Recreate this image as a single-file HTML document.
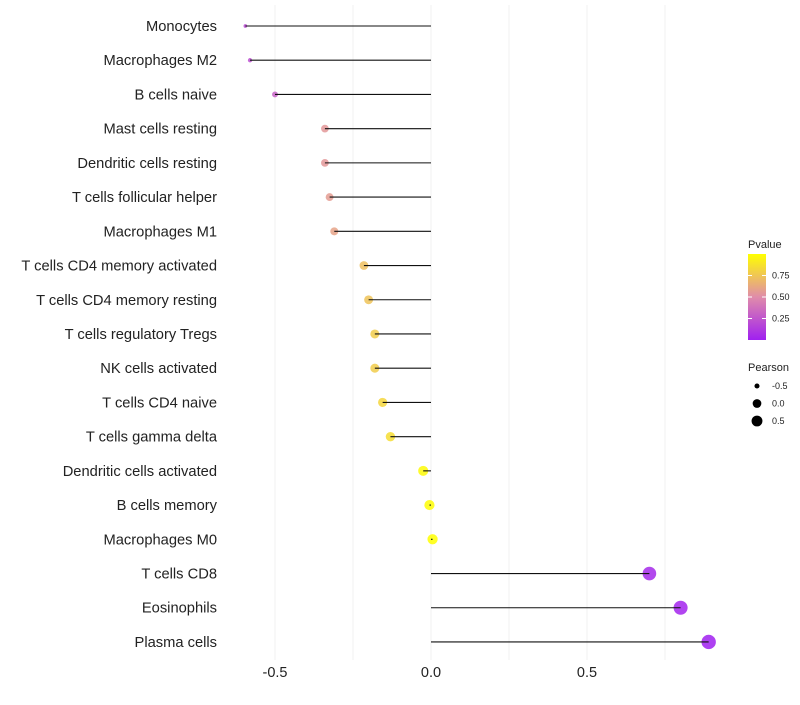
<!DOCTYPE html>
<html><head><meta charset="utf-8"><style>
body{margin:0;background:#fff;font-family:"Liberation Sans",sans-serif;}
</style></head><body>
<svg id="c" width="800" height="700" xmlns="http://www.w3.org/2000/svg"></svg>
<script>
const categories=["Monocytes","Macrophages M2","B cells naive","Mast cells resting","Dendritic cells resting","T cells follicular helper","Macrophages M1","T cells CD4 memory activated","T cells CD4 memory resting","T cells regulatory  Tregs ","NK cells activated","T cells CD4 naive","T cells gamma delta","Dendritic cells activated","B cells memory","Macrophages M0","T cells CD8","Eosinophils","Plasma cells"];
const pearson=[-0.595,-0.58,-0.5,-0.34,-0.34,-0.325,-0.31,-0.215,-0.2,-0.18,-0.18,-0.155,-0.13,-0.025,-0.005,0.005,0.7,0.8,0.89];
const pvalues=[0.2,0.22,0.3,0.55,0.55,0.57,0.6,0.72,0.74,0.78,0.78,0.82,0.85,0.98,0.99,1.0,0.04,0.02,0.0];
const xTicks=[-0.5,0,0.5];
const xTickLabels=["-0.5","0.0","0.5"];
const legendTicks=[0.25,0.5,0.75];
const sizeTicks=[-0.5,0,0.5];

const svg=document.getElementById('c');
const NS="http://www.w3.org/2000/svg";
function mk(t,a,name,p){const e=document.createElementNS(NS,t);for(const k in a)e.setAttribute(k,a[k]);


(p||svg).appendChild(e);return e;}
const xs=v=>431+v*312;
const ys=i=>26+i*34.22;
const rs=v=>1.5+5.7*Math.sqrt(Math.max(0,(v+0.6)/1.5));
function lerp(a,b,t){return a.map((x,i)=>Math.round(x+(b[i]-x)*t));}
function col(p){const s=[[160,32,240],[224,140,170],[255,255,0]];
let c=p<0.5?lerp(s[0],s[1],p/0.5):lerp(s[1],s[2],(p-0.5)/0.5);return `rgb(${c})`;}
[-0.5,-0.25,0,0.25,0.5,0.75].forEach(v=>mk('line',{x1:xs(v),x2:xs(v),y1:5,y2:660,stroke:'#f0f0f0','stroke-width':1},'x-gridline'));
xTicks.forEach((v,i)=>{const t=mk('text',{x:xs(v),y:677,'text-anchor':'middle','font-size':14.5,fill:'#222'},'x-tick-label');t.textContent=xTickLabels[i];});
categories.forEach((c,i)=>{
 const y=ys(i);
 const t=mk('text',{x:217,y:y+5,'text-anchor':'end','font-size':14.7,fill:'#222'},'y-category-label');t.textContent=c;
 mk('circle',{cx:xs(pearson[i]),cy:y,r:rs(pearson[i]),fill:col(pvalues[i]),'fill-opacity':0.85},'lollipop-point');
 mk('line',{x1:xs(0),x2:xs(pearson[i]),y1:y,y2:y,stroke:'#111','stroke-width':1.1},'lollipop-stem');
});
const lt=mk('text',{x:748,y:248,'font-size':11,fill:'#222'},'color-legend-title');lt.textContent='Pvalue';
const defs=mk('defs',{},'defs');
const g=mk('linearGradient',{id:'pg',x1:0,y1:1,x2:0,y2:0},'pvalue-gradient',defs);
[0,0.5,1].forEach(o=>mk('stop',{offset:o,'stop-color':col(o)},'gradient-stop',g));
mk('rect',{x:748,y:254,width:18,height:86,fill:'url(#pg)'},'color-bar');
legendTicks.forEach(v=>{const y=340-v*86;
 mk('line',{x1:748,x2:752,y1:y,y2:y,stroke:'#fff'},'color-bar-tick');
 mk('line',{x1:762,x2:766,y1:y,y2:y,stroke:'#fff'},'color-bar-tick');
 const t=mk('text',{x:772,y:y+3,'font-size':9,fill:'#222'},'color-legend-label');t.textContent=v.toFixed(2);});
const st=mk('text',{x:748,y:371,'font-size':11,fill:'#222'},'size-legend-title');st.textContent='Pearson';
sizeTicks.forEach((v,i)=>{const y=386+i*17.5;
 mk('circle',{cx:757,cy:y,r:rs(v)*0.85,fill:'#000'},'size-legend-key');
 const t=mk('text',{x:772,y:y+3,'font-size':9,fill:'#222'},'size-legend-label');t.textContent=xTickLabels[i];});
</script>
</body></html>
